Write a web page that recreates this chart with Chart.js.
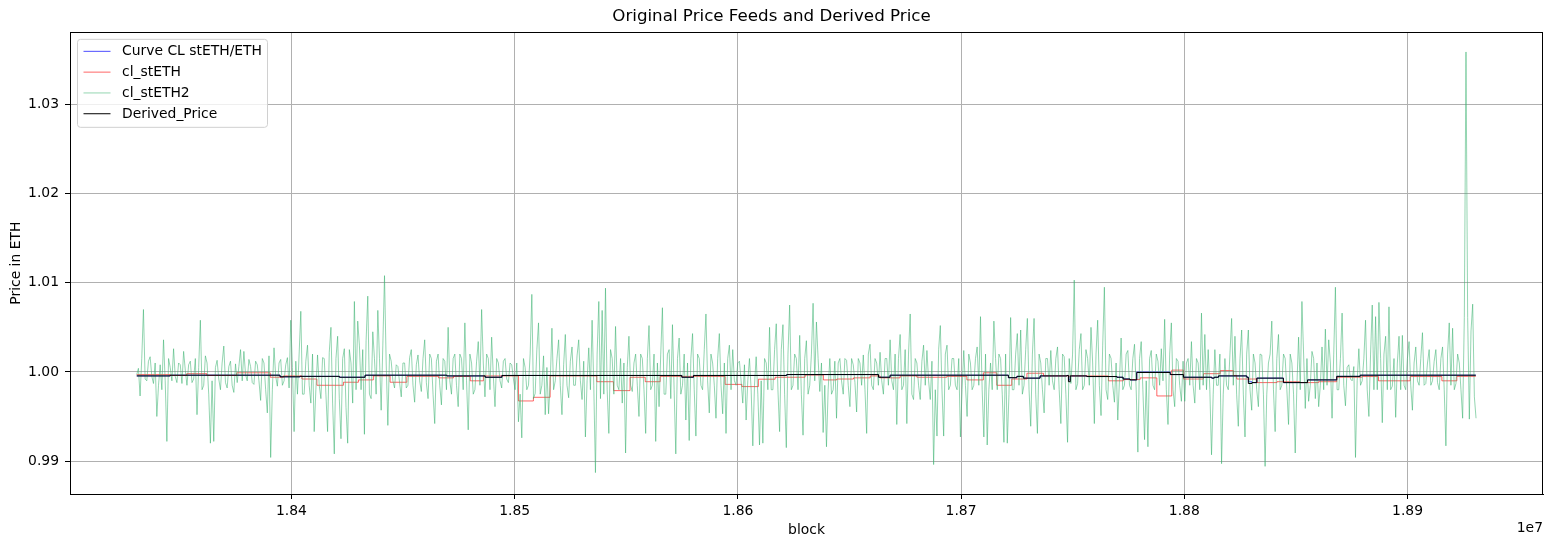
<!DOCTYPE html>
<html>
<head>
<meta charset="utf-8">
<title>Original Price Feeds and Derived Price</title>
<script src="https://cdn.jsdelivr.net/npm/chart.js@4/dist/chart.umd.min.js"></script>
<style>
  html, body { margin: 0; padding: 0; background: #fff; }
  #chart { display: block; }
</style>
</head>
<body>
<canvas id="chart" width="1552" height="547"></canvas>
<script>
// tick labels
const blockTicks = [18400000, 18500000, 18600000, 18700000, 18800000, 18900000];
const priceTicks = [0.99, 1.00, 1.01, 1.02, 1.03];

// Curve CL stETH/ETH and Derived_Price, sampled at their update blocks
const derivedBlocks = [18330700, 18345700, 18394900, 18403900, 18421500, 18433000, 18469600, 18486800, 18494300, 18574900,
  18580100, 18621900, 18663000, 18668200, 18721200, 18725000, 18727900, 18735400, 18747400, 18748100,
  18748900, 18756300, 18769800, 18772600, 18775700, 18778700, 18793700, 18799600, 18812300, 18813400,
  18815300, 18828000, 18828700, 18830300, 18832500, 18844400, 18855200, 18868300, 18878800, 18930600];
const derivedPrices = [0.99955, 0.99963, 0.99945, 0.9995, 0.9994, 0.99963, 0.99955, 0.9994, 0.9996, 0.9994,
  0.9996, 0.9997, 0.9994, 0.99963, 0.99935, 0.9995, 0.9993, 0.99955, 0.9996, 0.9989,
  0.99955, 0.99948, 0.9994, 0.9992, 0.9991, 0.99993, 0.9997, 0.9994, 0.9993, 0.9994,
  0.99955, 0.9994, 0.9987, 0.9988, 0.9993, 0.9988, 0.9991, 0.9995, 0.99963, 0.99963];
const curvePrices = [0.99955, 0.99963, 0.99945, 0.9995, 0.9994, 0.99963, 0.99955, 0.9994, 0.9996, 0.9994,
  0.9996, 0.9997, 0.9994, 0.99963, 0.99935, 0.9995, 0.9993, 0.99955, 0.9996, 0.9991,
  0.99955, 0.99948, 0.9994, 0.9992, 0.9991, 0.99998, 0.9997, 0.9994, 0.9993, 0.9994,
  0.99955, 0.9994, 0.9989, 0.9988, 0.9993, 0.9988, 0.9991, 0.9995, 0.99963, 0.99963];

// cl_stETH (step feed)
const stethBlocks = [18330700, 18345700, 18353100, 18362100, 18375500, 18390500, 18396400, 18404700, 18411400, 18423300,
  18430000, 18436700, 18444200, 18451700, 18465900, 18472600, 18480100, 18486000, 18501700, 18508400,
  18515900, 18536800, 18544300, 18551700, 18558500, 18565200, 18594300, 18601800, 18609200, 18616700,
  18630100, 18638300, 18644300, 18651800, 18659300, 18663700, 18672700, 18680200, 18693600, 18702600,
  18710000, 18716000, 18722700, 18729500, 18736900, 18766000, 18772700, 18780200, 18787700, 18794400,
  18799600, 18808600, 18816100, 18822000, 18823500, 18832500, 18841500, 18851900, 18860100, 18868300,
  18879500, 18887000, 18901200, 18915400, 18922100, 18930600];
const stethPrices = [0.9997, 0.9996, 0.9998, 0.9996, 0.9999, 0.9994, 0.99955, 0.9992, 0.9985, 0.99884,
  0.9991, 0.99955, 0.99884, 0.9995, 0.99933, 0.9995, 0.9990, 0.99955, 0.99674, 0.99715,
  0.99955, 0.9989, 0.9979, 0.9994, 0.9989, 0.9995, 0.9986, 0.99835, 0.99918, 0.9994,
  0.99965, 0.9991, 0.9992, 0.99933, 0.99955, 0.99933, 0.99955, 0.9994, 0.9995, 0.9991,
  0.9999, 0.9985, 0.9992, 0.99985, 0.99955, 0.9990, 0.99914, 0.99933, 0.9973, 1.0002,
  0.9992, 0.9998, 1.00015, 0.9996, 0.9992, 0.9988, 0.9989, 0.9988, 0.9989, 0.9994,
  0.99948, 0.9990, 0.99948, 0.9990, 0.9995, 0.9995];

// cl_stETH2: readings every 1500 blocks from the first block ...
const steth2FirstBlock = 18330700;
const steth2BlockStep = 1500;
const steth2Readings = [
  0.9997, 0.9973, 1.0070, 0.9990, 1.0017, 0.9987, 0.9950, 1.0008, 1.0036, 0.9922,
  1.0005, 1.0026, 0.9988, 1.0008, 1.0023, 0.9985, 1.0012, 0.9992, 0.9952, 1.0058,
  0.9985, 1.0010, 0.9920, 0.9922, 1.0013, 0.9980, 1.0029, 0.9982, 1.0012, 0.9977,
  0.9988, 1.0025, 1.0023, 0.9990, 1.0006, 0.9986, 1.0008, 0.9968, 1.0010, 0.9954,
  0.9904, 1.0027, 0.9984, 1.0014, 0.9990, 1.0016, 1.0058, 0.9933, 0.9975, 1.0068,
  0.9975, 1.0030, 0.9965, 0.9933, 1.0019, 0.9970, 1.0015, 0.9933, 1.0050, 0.9908,
  1.0040, 0.9925, 1.0026, 0.9920, 1.0010, 1.0079, 1.0057, 0.9980, 0.9930, 1.0085,
  0.9970, 1.0015, 1.0069, 0.9957, 1.0108, 0.9940, 1.0012, 0.9982, 1.0006, 0.9972,
  1.0010, 0.9985, 1.0025, 0.9966, 1.0019, 0.9978, 1.0036, 0.9970, 1.0015, 0.9942,
  1.0020, 0.9963, 1.0012, 1.0050, 0.9975, 1.0020, 0.9961, 1.0015, 1.0055, 0.9935,
  1.0010, 0.9980, 1.0034, 1.0070, 0.9972, 1.0015, 1.0039, 0.9961, 1.0010, 0.9982,
  1.0015, 0.9988, 1.0008, 0.9980, 0.9944, 0.9926, 1.0005, 0.9985, 1.0087, 0.9976,
  1.0055, 0.9985, 0.9952, 0.9953, 1.0049, 0.9990, 1.0036, 0.9952, 1.0042, 0.9971,
  1.0028, 0.9985, 1.0036, 0.9969, 0.9927, 1.0027, 1.0058, 0.9887, 1.0079, 1.0069,
  1.0094, 0.9931, 1.0015, 1.0051, 0.9980, 0.9965, 0.9909, 1.0040, 0.9978, 1.0020,
  0.9950, 1.0015, 0.9931, 1.0052, 0.9985, 0.9922, 0.9961, 1.0072, 0.9975, 1.0025,
  1.0053, 0.9908, 1.0038, 0.9985, 0.9946, 0.9923, 1.0043, 0.9928, 1.0015, 0.9980,
  1.0065, 0.9954, 1.0010, 0.9948, 1.0043, 0.9953, 0.9931, 1.0030, 1.0025, 0.9985,
  1.0012, 0.9965, 0.9946, 1.0015, 0.9917, 1.0017, 0.9918, 0.9920, 1.0010, 1.0050,
  0.9980, 1.0054, 0.9933, 1.0053, 0.9915, 1.0075, 0.9985, 1.0015, 1.0041, 0.9929,
  1.0035, 0.9985, 1.0077, 1.0056, 0.9978, 0.9932, 0.9916, 1.0015, 0.9980, 0.9948,
  1.0015, 0.9975, 1.0013, 0.9961, 1.0008, 0.9955, 1.0010, 1.0019, 0.9931, 1.0031,
  0.9980, 1.0010, 1.0022, 0.9975, 1.0015, 1.0036, 0.9980, 0.9941, 1.0042, 0.9985,
  0.9942, 1.0065, 0.9969, 1.0010, 0.9969, 1.0030, 1.0024, 0.9969, 0.9896, 0.9928,
  1.0052, 0.9928, 1.0030, 0.9985, 1.0015, 0.9980, 0.9927, 1.0024, 0.9950, 1.0010,
  0.9985, 1.0028, 1.0062, 0.9927, 0.9918, 1.0010, 1.0057, 0.9980, 1.0015, 0.9921,
  0.9920, 1.0061, 0.9980, 1.0043, 1.0047, 0.9985, 1.0060, 0.9939, 1.0060, 0.9931,
  1.0010, 0.9954, 1.0015, 1.0024, 0.9980, 1.0028, 0.9942, 1.0017, 0.9921, 0.9987,
  1.0103, 0.9987, 1.0043, 0.9985, 1.0015, 1.0050, 0.9942, 1.0058, 0.9951, 1.0095,
  0.9969, 1.0015, 0.9966, 0.9946, 1.0038, 0.9985, 1.0024, 0.9980, 1.0031, 0.9910,
  1.0034, 0.9924, 0.9916, 1.0024, 0.9980, 1.0012, 1.0026, 1.0059, 0.9941, 1.0055,
  0.9961, 1.0012, 0.9967, 0.9967, 1.0015, 1.0034, 0.9965, 1.0010, 1.0066, 1.0042,
  1.0025, 0.9907, 1.0025, 0.9985, 0.9897, 1.0015, 0.9980, 1.0060, 1.0040, 0.9939,
  1.0047, 0.9927, 1.0047, 0.9957, 1.0010, 0.9961, 1.0019, 0.9894, 1.0010, 1.0057,
  0.9933, 1.0042, 0.9985, 1.0015, 0.9941, 1.0010, 0.9909, 1.0039, 1.0079, 0.9959,
  0.9967, 1.0023, 0.9970, 0.9961, 1.0028, 1.0048, 1.0036, 0.9948, 1.0095, 0.9980,
  1.0066, 0.9962, 1.0008, 0.9990, 0.9904, 1.0026, 0.9990, 1.0058, 0.9950, 1.0075,
  1.0062, 1.0078, 0.9943, 1.0040, 1.0073, 0.9984, 0.9949, 1.0040, 1.0041, 0.9980,
  1.0034, 0.9957, 1.0028, 0.9985, 1.0044, 0.9987, 1.0025, 0.9990, 1.0025, 0.9980,
  1.0028, 0.9917, 1.0055, 1.0049, 0.9987, 1.0010, 0.9948, 1.0359, 0.9947, 1.0076,
  0.9948
];
// ... and the readings half a step (750 blocks) after each of them
const steth2Between = [
  1.0004, 1.0015, 0.9992, 1.0012, 0.9995, 1.0010, 0.9985, 0.9980, 0.9990, 1.0015,
  0.9990, 0.9995, 1.0010, 0.9987, 1.0002, 1.0008, 0.9988, 1.0015, 1.0005, 0.9980,
  1.0018, 0.9975, 0.9990, 1.0005, 0.9992, 1.0010, 0.9988, 1.0006, 0.9985, 1.0009,
  1.0006, 0.9990, 0.9997, 1.0014, 0.9988, 1.0012, 0.9990, 1.0015, 0.9980, 1.0018,
  0.9980, 0.9995, 1.0010, 0.9985, 1.0008, 0.9982, 1.0005, 1.0012, 1.0020, 0.9975,
  1.0012, 0.9985, 1.0020, 0.9980, 0.9985, 1.0016, 0.9975, 1.0022, 0.9965, 1.0015,
  0.9970, 1.0015, 0.9960, 1.0025, 0.9965, 0.9980, 1.0030, 1.0025, 1.0035, 0.9975,
  1.0045, 0.9975, 1.0015, 1.0030, 1.0010, 1.0020, 0.9990, 1.0008, 0.9988, 1.0010,
  0.9982, 1.0016, 0.9985, 1.0008, 0.9990, 1.0015, 0.9988, 1.0020, 0.9975, 1.0012,
  0.9985, 1.0015, 0.9980, 0.9990, 1.0015, 0.9985, 1.0020, 0.9980, 0.9990, 1.0020,
  0.9975, 1.0012, 0.9985, 1.0010, 1.0020, 0.9980, 0.9995, 1.0015, 0.9990, 1.0012,
  0.9992, 1.0010, 0.9992, 1.0010, 0.9975, 1.0015, 0.9980, 1.0020, 0.9970, 1.0025,
  0.9975, 1.0018, 1.0005, 0.9990, 0.9980, 1.0015, 0.9985, 1.0008, 0.9985, 1.0012,
  0.9985, 1.0018, 0.9990, 1.0012, 0.9990, 0.9980, 0.9985, 1.0020, 0.9970, 0.9975,
  0.9980, 1.0025, 0.9975, 0.9985, 1.0015, 1.0010, 1.0005, 0.9985, 1.0010, 0.9985,
  1.0020, 0.9980, 1.0015, 0.9980, 1.0020, 1.0010, 1.0020, 0.9975, 1.0020, 0.9970,
  0.9980, 1.0015, 0.9975, 1.0020, 1.0010, 1.0015, 0.9980, 1.0020, 0.9985, 1.0025,
  0.9990, 1.0020, 0.9985, 1.0015, 0.9985, 1.0010, 1.0015, 0.9980, 0.9990, 1.0010,
  0.9990, 1.0008, 0.9990, 0.9980, 0.9985, 0.9975, 0.9990, 1.0015, 0.9980, 0.9980,
  1.0025, 0.9980, 1.0025, 0.9975, 1.0020, 0.9980, 1.0020, 0.9980, 0.9975, 1.0015,
  0.9975, 1.0020, 0.9990, 1.0015, 1.0010, 0.9985, 0.9980, 0.9975, 1.0012, 1.0010,
  0.9990, 1.0015, 0.9985, 1.0015, 0.9988, 1.0015, 0.9985, 0.9980, 1.0020, 0.9985,
  1.0015, 0.9985, 0.9990, 1.0015, 0.9985, 0.9990, 1.0020, 1.0015, 0.9980, 1.0025,
  1.0020, 0.9975, 1.0015, 0.9985, 1.0012, 0.9985, 0.9990, 1.0012, 0.9980, 1.0025,
  0.9980, 1.0020, 0.9980, 1.0015, 0.9985, 1.0015, 0.9980, 0.9985, 1.0020, 0.9980,
  1.0015, 0.9985, 0.9980, 1.0020, 0.9980, 0.9980, 1.0015, 1.0020, 0.9975, 1.0020,
  0.9975, 0.9980, 1.0020, 0.9985, 0.9975, 1.0025, 0.9980, 1.0020, 0.9975, 1.0020,
  0.9980, 1.0015, 0.9985, 0.9990, 1.0015, 0.9980, 1.0020, 0.9975, 1.0015, 1.0020,
  0.9980, 1.0025, 0.9980, 1.0025, 0.9985, 1.0010, 1.0020, 0.9985, 1.0030, 0.9980,
  1.0020, 0.9985, 1.0010, 0.9990, 0.9980, 1.0020, 0.9985, 1.0015, 0.9980, 1.0015,
  0.9980, 0.9990, 1.0015, 0.9985, 1.0020, 0.9985, 0.9990, 0.9980, 1.0020, 0.9980,
  1.0015, 0.9985, 1.0012, 1.0010, 0.9985, 0.9985, 1.0015, 0.9980, 0.9985, 0.9980,
  0.9980, 0.9975, 0.9985, 1.0020, 0.9975, 0.9985, 1.0020, 0.9985, 0.9975, 1.0015,
  0.9975, 1.0020, 0.9980, 1.0020, 0.9980, 1.0020, 0.9975, 0.9975, 1.0020, 0.9980,
  1.0015, 0.9980, 1.0020, 0.9980, 1.0020, 0.9975, 0.9985, 0.9980, 1.0020, 1.0015,
  0.9985, 1.0015, 1.0010, 0.9985, 0.9980, 0.9985, 1.0010, 1.0020, 0.9980, 1.0015,
  0.9985, 1.0005, 0.9992, 1.0006, 0.9990, 0.9985, 1.0015, 0.9980, 1.0020, 0.9980,
  0.9980, 1.0015, 1.0020, 0.9980, 0.9980, 1.0015, 1.0010, 0.9980, 0.9985, 1.0015,
  0.9985, 1.0010, 0.9990, 1.0015, 0.9985, 1.0010, 0.9985, 1.0012, 0.9988, 1.0015,
  0.9980, 1.0020, 0.9985, 0.9980, 1.0020, 0.9980, 1.0061, 1.0061, 1.0046, 0.9972
];

const FONT = "'DejaVu Sans', 'Liberation Sans', sans-serif";
Chart.defaults.font.family = FONT;
Chart.defaults.font.size = 13.9;
Chart.defaults.color = "#000";

const toPoints = (blocks, prices) => blocks.map((b, i) => ({ x: b, y: prices[i] }));

// put the two reading lists back in block order
const steth2Points = steth2Readings.flatMap((p, i) => {
    const b = steth2FirstBlock + i * steth2BlockStep;
    const pts = [{ x: b, y: p }];
    if (i < steth2Between.length) pts.push({ x: b + steth2BlockStep / 2, y: steth2Between[i] });
    return pts;
});

// plot frame + the "1e7" offset label + matplotlib style legend
const extras = {
    id: "extras",
    afterDraw(chart) {
        const { ctx, chartArea: area } = chart;
        ctx.save();
        ctx.strokeStyle = "#000";
        ctx.lineWidth = 1;
        ctx.strokeRect(Math.round(area.left) + 0.5, Math.round(area.top) + 0.5,
            Math.round(area.right - area.left) - 1, Math.round(area.bottom - area.top));

        ctx.font = `13.9px ${FONT}`;
        ctx.fillStyle = "#000";
        ctx.textAlign = "right";
        ctx.textBaseline = "middle";
        ctx.fillText("1e7", area.right, 528);

        // legend
        const bx = area.left + 7.5, by = area.top + 7, bw = 190, bh = 88;
        ctx.beginPath();
        ctx.roundRect(bx, by, bw, bh, 3);
        ctx.fillStyle = "rgba(255,255,255,0.8)";
        ctx.fill();
        ctx.strokeStyle = "#d0d0d0";
        ctx.stroke();
        ctx.textAlign = "left";
        chart.data.datasets.forEach((ds, i) => {
            const y = by + 12 + i * 20.8;
            ctx.beginPath();
            ctx.moveTo(bx + 6, y);
            ctx.lineTo(bx + 33, y);
            ctx.strokeStyle = ds.borderColor;
            ctx.lineWidth = 1;
            ctx.stroke();
            ctx.fillStyle = "#000";
            ctx.fillText(ds.label, bx + 44.5, y + 0.5);
        });
        ctx.restore();
    }
};

new Chart(document.getElementById("chart"), {
    type: "line",
    data: {
        datasets: [
            {
                label: "Curve CL stETH/ETH",
                data: toPoints(derivedBlocks, curvePrices),
                borderColor: "rgba(0,0,255,0.7)",
                borderWidth: 1,
                stepped: true,
                order: 4
            },
            {
                label: "cl_stETH",
                data: toPoints(stethBlocks, stethPrices),
                borderColor: "rgba(255,0,0,0.6)",
                borderWidth: 1,
                stepped: true,
                order: 3
            },
            {
                label: "cl_stETH2",
                data: steth2Points,
                borderColor: "rgba(60,179,113,0.55)",
                borderWidth: 1,
                order: 2
            },
            {
                label: "Derived_Price",
                data: toPoints(derivedBlocks, derivedPrices),
                borderColor: "#000",
                borderWidth: 1,
                stepped: true,
                order: 1
            }
        ]
    },
    options: {
        responsive: false,
        animation: false,
        devicePixelRatio: 1,
        layout: { padding: { left: 0, right: 9, top: 0, bottom: 0 } },
        elements: { point: { radius: 0 }, line: { tension: 0 } },
        plugins: {
            legend: { display: false },
            tooltip: { enabled: false },
            title: {
                display: true,
                text: "Original Price Feeds and Derived Price",
                font: { size: 16.7, weight: "normal" },
                color: "#000",
                padding: { top: 7, bottom: 5.3 }
            }
        },
        scales: {
            x: {
                type: "linear",
                min: 18300800,
                max: 18960700,
                afterBuildTicks: scale => { scale.ticks = blockTicks.map(v => ({ value: v })); },
                afterFit: scale => { scale.height = 53; },
                ticks: {
                    padding: 4,
                    maxRotation: 0,
                    callback: v => (v / 1e7).toFixed(2)
                },
                grid: { color: "#b0b0b0", lineWidth: 1, tickLength: 5, tickColor: "#000" },
                border: { display: true, color: "#000", width: 1 },
                title: { display: true, text: "block", padding: { top: 0, bottom: 8.7 } }
            },
            y: {
                type: "linear",
                min: 0.9863,
                max: 1.0381,
                afterBuildTicks: scale => { scale.ticks = priceTicks.map(v => ({ value: v })); },
                afterFit: scale => { scale.width = 70; },
                ticks: {
                    padding: 6,
                    callback: v => v.toFixed(2)
                },
                grid: { color: "#b0b0b0", lineWidth: 1, tickLength: 5, tickColor: "#000" },
                border: { display: true, color: "#000", width: 1 },
                title: { display: true, text: "Price in ETH", padding: { top: 7.7, bottom: 0 } }
            }
        }
    },
    plugins: [extras]
});
</script>
</body>
</html>
